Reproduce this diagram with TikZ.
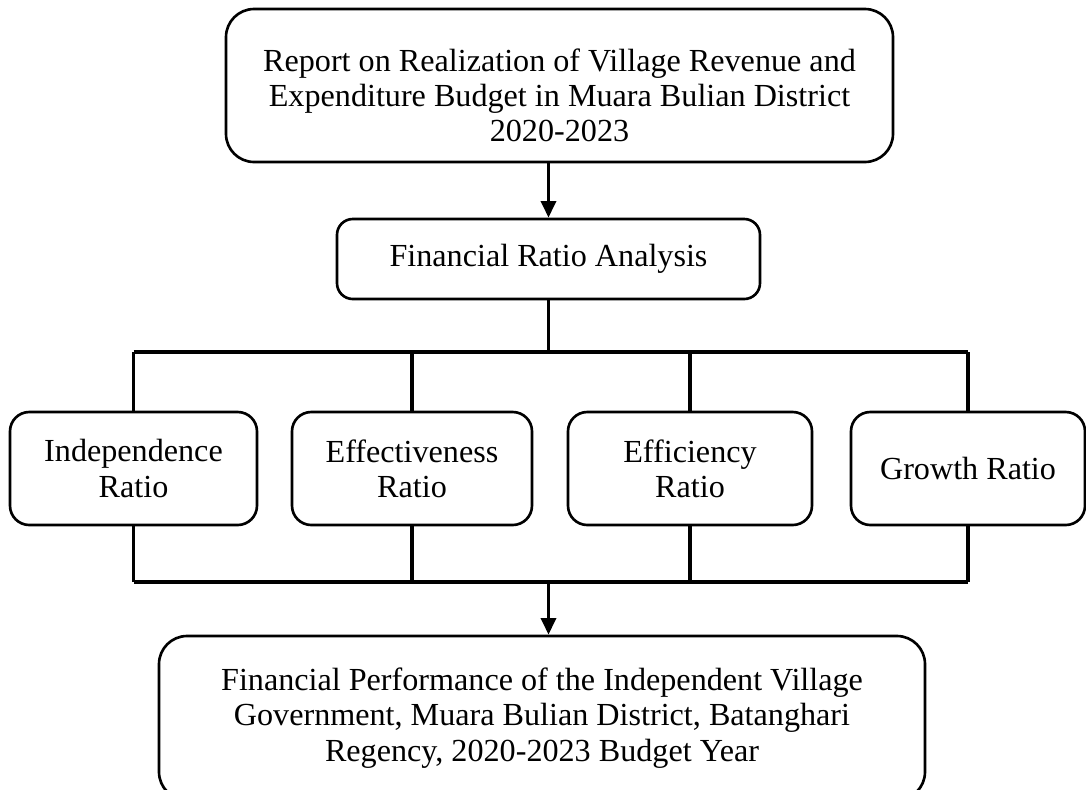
\documentclass[tikz,border=0pt]{standalone}
\usepackage{fontspec}
\setmainfont{Liberation Serif}
\usetikzlibrary{arrows.meta, positioning}

\tikzset{
  box/.style={draw, line width=1.5pt, rounded corners=11pt, align=center,
    inner sep=0pt, font=\fontsize{18.3}{20}\selectfont},
  link/.style={line width=2pt},
  flow/.style={link, -{Triangle[length=9.5pt, width=8.5pt]}}
}

\begin{document}
\begin{tikzpicture}[x=0.02cm, y=-0.02cm]
  \useasboundingbox (0,0) rectangle (1086,789);

  \node[box, rounded corners=16pt, minimum width=667*0.02cm, minimum height=153*0.02cm] (report) at (559.5,85.5)
    {\rule{0pt}{24pt}Report on Realization of Village Revenue and\\Expenditure Budget in Muara Bulian District\\2020-2023};
  \node[box, rounded corners=9pt, minimum width=423*0.02cm, minimum height=80*0.02cm] (fra) at (548.5,259)
    {Financial Ratio Analysis};

  % ratio boxes
  \node[box, minimum width=247*0.02cm, minimum height=113*0.02cm] (indep)  at (133.5,468.5) {Independence\\Ratio};
  \node[box, minimum width=240*0.02cm, minimum height=113*0.02cm] (effect) at (412,468.5)   {Effectiveness\\Ratio};
  \node[box, minimum width=244*0.02cm, minimum height=113*0.02cm] (effic)  at (690,468.5)   {Efficiency\\Ratio};
  \node[box, minimum width=234*0.02cm, minimum height=113*0.02cm] (growth) at (968,468.5)   {Growth Ratio};

  \node[box, rounded corners=16pt, minimum width=766*0.02cm, minimum height=164*0.02cm] (perf) at (542,718)
    {Financial Performance of the Independent Village\\Government, Muara Bulian District, Batanghari\\Regency, 2020-2023 Budget Year};

  \coordinate (topbar) at (548.5,352);
  \coordinate (lowbar) at (548.5,582);

  \draw[flow] (report.south -| fra.north) -- (fra.north);
  \draw[link] (fra.south) -- (topbar);
  \draw[link] (indep.north |- topbar) -- (growth.north |- topbar);
  \foreach \r in {indep, effect, effic, growth}
    \draw[link] (\r.north |- topbar) -- (\r.north);

  \foreach \r in {indep, effect, effic, growth}
    \draw[link] (\r.south) -- (\r.south |- lowbar);
  \draw[link] (indep.south |- lowbar) -- (growth.south |- lowbar);
  \draw[flow] (lowbar) -- (perf.north -| lowbar);
\end{tikzpicture}
\end{document}
